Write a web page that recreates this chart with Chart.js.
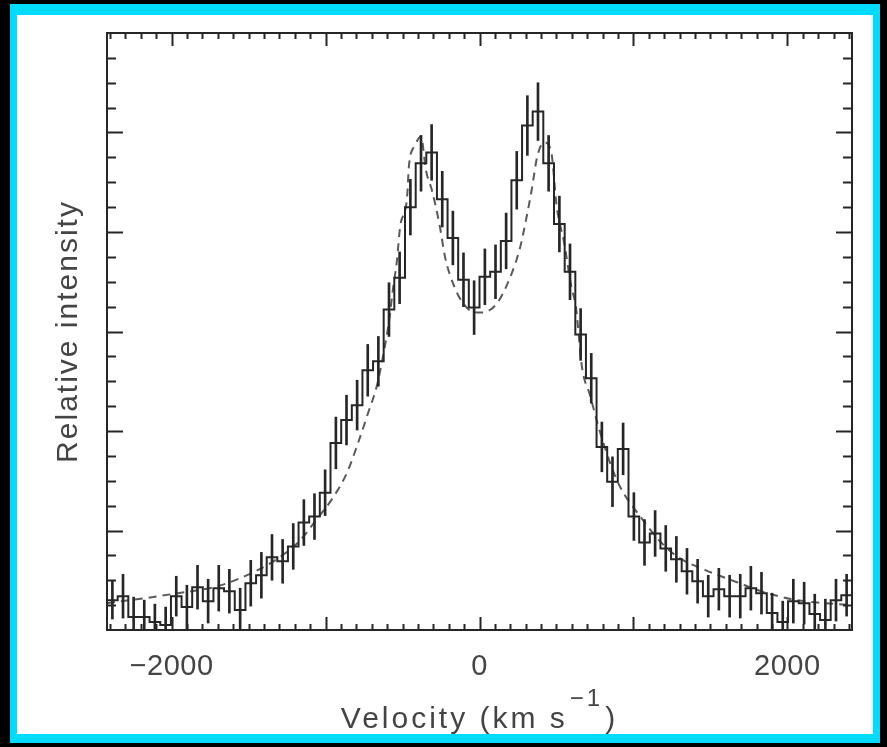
<!DOCTYPE html>
<html>
<head>
<meta charset="utf-8">
<script src="https://cdn.jsdelivr.net/npm/chart.js@4.4.0/dist/chart.umd.min.js"></script>
<style>
  html, body { margin: 0; padding: 0; background: #000; overflow: hidden; }
  #wrap { width: 887px; height: 747px; }
</style>
</head>
<body>
<div id="wrap"><canvas id="spec" width="887" height="747"></canvas></div>
<script>
// bin centres of the line profile (km/s)
const velocity = [
  -2385, -2316, -2247, -2178, -2109, -2039, -1970, -1901, -1832, -1763,
  -1694, -1625, -1555, -1486, -1417, -1348, -1279, -1210, -1141, -1072,
  -1003, -933, -864, -795, -726, -657, -588, -519, -449, -380,
  -311, -242, -173, -104, -35, 35, 104, 173, 242, 311,
  380, 449, 519, 588, 657, 726, 795, 864, 933, 1003,
  1072, 1141, 1210, 1279, 1348, 1417, 1486, 1555, 1625, 1694,
  1763, 1832, 1901, 1970, 2039, 2109, 2178, 2247, 2316, 2385
];
const intensity = [
  0.30, 0.34, 0.13, 0.13, 0.08, 0.05, 0.34, 0.23, 0.43, 0.29,
  0.42, 0.39, 0.20, 0.47, 0.55, 0.73, 0.69, 0.84, 1.08, 1.14,
  1.38, 1.88, 2.11, 2.26, 2.61, 2.70, 3.22, 3.54, 4.25, 4.69,
  4.80, 4.33, 3.94, 3.52, 3.24, 3.55, 3.60, 3.91, 4.52, 5.07,
  5.21, 4.69, 4.08, 3.60, 2.97, 2.53, 1.84, 1.49, 1.82, 1.14,
  0.88, 0.97, 0.82, 0.71, 0.59, 0.49, 0.34, 0.41, 0.34, 0.34,
  0.42, 0.37, 0.17, 0.08, 0.29, 0.27, 0.16, 0.10, 0.30, 0.35
];
const errors = [
  0.19, 0.22, 0.20, 0.17, 0.18, 0.18, 0.20, 0.22, 0.22, 0.22,
  0.23, 0.22, 0.22, 0.23, 0.23, 0.23, 0.22, 0.23, 0.23, 0.23,
  0.23, 0.26, 0.25, 0.25, 0.26, 0.25, 0.27, 0.26, 0.28, 0.28,
  0.28, 0.28, 0.27, 0.27, 0.27, 0.28, 0.27, 0.28, 0.29, 0.30,
  0.29, 0.28, 0.28, 0.28, 0.26, 0.25, 0.25, 0.25, 0.26, 0.24,
  0.23, 0.23, 0.23, 0.23, 0.23, 0.22, 0.21, 0.21, 0.21, 0.22,
  0.22, 0.21, 0.20, 0.21, 0.22, 0.21, 0.20, 0.21, 0.21, 0.21
];

// double-peaked model profile (dashed)
const modelVelocity = [
  -2420, -2173, -1959, -1725, -1556, -1329, -1166, -1069, -952, -861,
  -789, -724, -666, -620, -588, -562, -536, -516, -471, -458,
  -419, -380, -348, -309, -257, -224, -166, -114, -49, 3,
  107, 198, 263, 302, 341, 374, 419, 464, 503, 549,
  594, 627, 666, 718, 770, 848, 913, 1030, 1199, 1303,
  1471, 1673, 1848, 2063, 2420
];
const modelIntensity = [
  0.27, 0.32, 0.37, 0.43, 0.52, 0.70, 0.90, 1.09, 1.33, 1.58,
  1.88, 2.18, 2.46, 2.81, 3.10, 3.43, 3.72, 4.05, 4.34, 4.67,
  4.87, 4.96, 4.62, 4.42, 4.05, 3.75, 3.46, 3.30, 3.20, 3.19,
  3.27, 3.54, 3.84, 4.12, 4.44, 4.75, 4.90, 4.82, 4.24, 3.90,
  3.47, 3.24, 2.64, 2.36, 2.06, 1.68, 1.44, 1.17, 0.85, 0.72,
  0.60, 0.48, 0.38, 0.30, 0.25
];

const xTickLabels = [-2000, 0, 2000];
const xTitle = 'Velocity (km s';
const xTitleSup = '\u22121';
const yTitle = 'Relative intensity';

const X_MIN = -2420, X_MAX = 2420;
const Y_MIN = 0, Y_MAX = 6;
const INK = '#262626';
const TEXT = '#444';
const FONT = '"Liberation Sans", Arial, sans-serif';

// histogram runs from the left frame edge to the right one
const histPoints = [{ x: X_MIN, y: intensity[0] }]
  .concat(velocity.map((v, i) => ({ x: v, y: intensity[i] })))
  .concat([{ x: X_MAX, y: intensity[intensity.length - 1] }]);

const errPoints = velocity.map((v, i) => ({
  x: v,
  y: [intensity[i] - errors[i], intensity[i] + errors[i]]
}));

const modelPoints = modelVelocity.map((v, i) => ({ x: v, y: modelIntensity[i] }));

// black page, cyan border, white panel
const panelBackground = {
  id: 'panelBackground',
  beforeDraw(chart) {
    const ctx = chart.ctx;
    ctx.save();
    ctx.fillStyle = '#000';
    ctx.fillRect(0, 0, chart.width, chart.height);
    ctx.fillStyle = '#00dcff';
    ctx.fillRect(10, 4, 870, 739);
    ctx.fillStyle = '#fff';
    ctx.fillRect(17, 15, 856, 719);
    ctx.restore();
  }
};

// box around the plot with inward ticks on all four sides
const frameTicks = {
  id: 'frameTicks',
  afterDatasetsDraw(chart) {
    const { ctx, chartArea: a } = chart;
    const xs = chart.scales.x, ys = chart.scales.y;
    ctx.save();
    ctx.strokeStyle = INK;
    ctx.lineWidth = 2;
    ctx.strokeRect(a.left, a.top, a.right - a.left, a.bottom - a.top);
    ctx.beginPath();
    for (let v = -2400; v <= 2400; v += 100) {
      const px = Math.round(xs.getPixelForValue(v)) + 0.5;
      const len = v % 1000 === 0 ? 13 : 6;
      ctx.moveTo(px, a.bottom); ctx.lineTo(px, a.bottom - len);
      ctx.moveTo(px, a.top); ctx.lineTo(px, a.top + len);
    }
    for (let k = 1; k < 24; k++) {
      const v = k * 0.25;
      const py = Math.round(ys.getPixelForValue(v)) + 0.5;
      const len = k % 4 === 0 ? 16 : 9;
      ctx.moveTo(a.left, py); ctx.lineTo(a.left + len, py);
      ctx.moveTo(a.right, py); ctx.lineTo(a.right - len, py);
    }
    ctx.stroke();
    ctx.restore();
  }
};

// tick labels and axis titles
const axisText = {
  id: 'axisText',
  afterDraw(chart) {
    const { ctx, chartArea: a } = chart;
    const xs = chart.scales.x;
    ctx.save();
    ctx.fillStyle = TEXT;
    ctx.font = '29px ' + FONT;
    ctx.letterSpacing = '0.5px';
    ctx.textAlign = 'center';
    ctx.textBaseline = 'alphabetic';
    xTickLabels.forEach(v => {
      const s = v < 0 ? '\u2212' + Math.abs(v) : String(v);
      ctx.fillText(s, xs.getPixelForValue(v), a.bottom + 45);
    });

    // x title with superscript exponent
    ctx.letterSpacing = '3px';
    ctx.textAlign = 'left';
    ctx.font = '30px ' + FONT;
    const w1 = ctx.measureText(xTitle).width;
    const w3 = ctx.measureText(')').width;
    ctx.font = '24px ' + FONT;
    const w2 = ctx.measureText(xTitleSup).width;
    const cx = (a.left + a.right) / 2;
    const x0 = cx - (w1 + w2 + w3 + 4) / 2;
    const base = a.bottom + 98;
    ctx.font = '30px ' + FONT;
    ctx.fillText(xTitle, x0, base);
    ctx.font = '24px ' + FONT;
    ctx.fillText(xTitleSup, x0 + w1 + 2, base - 22);
    ctx.font = '30px ' + FONT;
    ctx.fillText(')', x0 + w1 + w2 + 4, base);

    // y title, rotated
    ctx.translate(69, (a.top + a.bottom) / 2);
    ctx.rotate(-Math.PI / 2);
    ctx.textAlign = 'center';
    ctx.textBaseline = 'middle';
    ctx.letterSpacing = '2px';
    ctx.font = '30px ' + FONT;
    ctx.fillText(yTitle, 0, 0);
    ctx.restore();
  }
};

new Chart(document.getElementById('spec'), {
  type: 'line',
  data: {
    datasets: [
      {
        label: 'observed',
        data: histPoints,
        stepped: 'middle',
        borderColor: INK,
        borderWidth: 2,
        pointRadius: 0,
        fill: false,
        order: 0
      },
      {
        type: 'bar',
        label: 'error',
        data: errPoints,
        backgroundColor: INK,
        borderWidth: 0,
        barThickness: 2,
        grouped: false,
        order: 1
      },
      {
        label: 'model',
        data: modelPoints,
        borderColor: '#5a5a5a',
        borderWidth: 2,
        borderDash: [8, 6],
        pointRadius: 0,
        cubicInterpolationMode: 'monotone',
        fill: false,
        order: 2
      }
    ]
  },
  options: {
    responsive: false,
    devicePixelRatio: 1,
    animation: false,
    layout: { padding: { left: 107, top: 33, right: 35, bottom: 117 } },
    plugins: { legend: { display: false }, tooltip: { enabled: false } },
    scales: {
      x: { type: 'linear', min: X_MIN, max: X_MAX, offset: false, display: false },
      y: { type: 'linear', min: Y_MIN, max: Y_MAX, display: false }
    }
  },
  plugins: [panelBackground, frameTicks, axisText]
});
</script>
</body>
</html>
